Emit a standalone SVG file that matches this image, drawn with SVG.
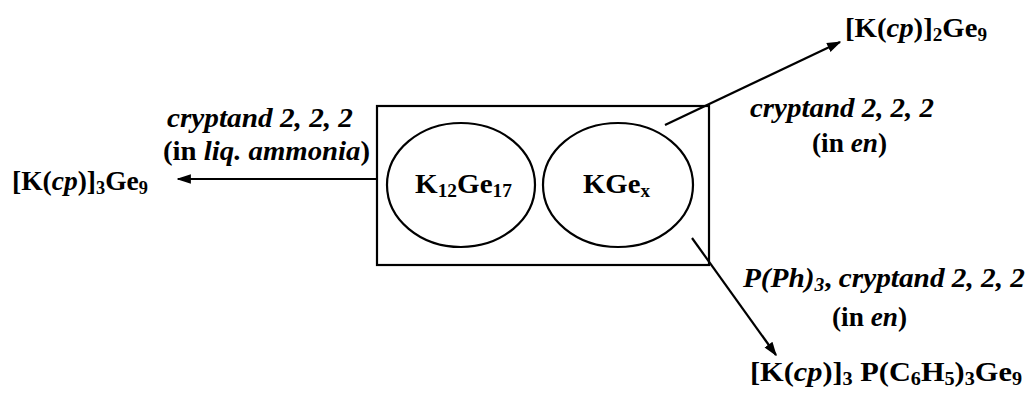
<svg xmlns="http://www.w3.org/2000/svg" width="1030" height="398" viewBox="0 0 1030 398">
<defs>
<style>
.t{font-family:'Liberation Serif','Times New Roman',serif;font-size:27px;font-weight:bold;fill:#000}
.i{font-style:italic}
.s{font-size:18px}
.box{fill:none;stroke:#000;stroke-width:2.2}
.ln{fill:none;stroke:#000;stroke-width:2.2}
</style>
<marker id="ah" viewBox="0 0 10 10" refX="9" refY="5" markerWidth="6.5" markerHeight="6.5" markerUnits="strokeWidth" orient="auto">
<path d="M0,1.6 L10,5 L0,8.4 z" fill="#000"/>
</marker>
</defs>
<rect width="1030" height="398" fill="#fff"/>

<g id="container">
<rect class="box" x="377" y="106" width="332" height="159"/>
</g>
<g id="node-k12ge17">
<ellipse class="box" cx="461" cy="185" rx="74" ry="62"/>
<text class="t" x="415" y="193" textLength="97" lengthAdjust="spacingAndGlyphs">K<tspan class="s" dy="4">12</tspan><tspan dy="-4">Ge</tspan><tspan class="s" dy="4">17</tspan></text>
</g>
<g id="node-kgex">
<ellipse class="box" cx="618" cy="185" rx="75" ry="62"/>
<text class="t" x="583" y="193" textLength="67" lengthAdjust="spacingAndGlyphs">KGe<tspan class="s" dy="4">x</tspan></text>
</g>

<g id="connectors">
<line class="ln" x1="377" y1="179" x2="178" y2="179" marker-end="url(#ah)"/>
<line class="ln" x1="665" y1="125" x2="840" y2="42" marker-end="url(#ah)"/>
<line class="ln" x1="692" y1="238" x2="776" y2="355" marker-end="url(#ah)"/>
</g>

<g id="label-left">
<text class="t i" x="167" y="127" textLength="186" lengthAdjust="spacingAndGlyphs">cryptand 2, 2, 2</text>
<text class="t" x="163" y="160" textLength="207" lengthAdjust="spacingAndGlyphs">(in <tspan class="i">liq. ammonia</tspan>)</text>
</g>
<g id="node-left-product">
<text class="t" x="12" y="190" textLength="136" lengthAdjust="spacingAndGlyphs">[K(<tspan class="i">cp</tspan>)]<tspan class="s" dy="4">3</tspan><tspan dy="-4">Ge</tspan><tspan class="s" dy="4">9</tspan></text>
</g>

<g id="node-top-product">
<text class="t" x="845" y="37" textLength="142" lengthAdjust="spacingAndGlyphs">[K(<tspan class="i">cp</tspan>)]<tspan class="s" dy="4">2</tspan><tspan dy="-4">Ge</tspan><tspan class="s" dy="4">9</tspan></text>
</g>
<g id="label-top">
<text class="t i" x="750" y="117" textLength="184" lengthAdjust="spacingAndGlyphs">cryptand 2, 2, 2</text>
<text class="t" x="812" y="152" textLength="75" lengthAdjust="spacingAndGlyphs">(in <tspan class="i">en</tspan>)</text>
</g>

<g id="label-bottom">
<text class="t i" x="743" y="287" textLength="282" lengthAdjust="spacingAndGlyphs">P(Ph)<tspan class="s" dy="4">3</tspan><tspan dy="-4" font-style="normal">, </tspan>cryptand 2, 2, 2</text>
<text class="t" x="832" y="326" textLength="75" lengthAdjust="spacingAndGlyphs">(in <tspan class="i">en</tspan>)</text>
</g>
<g id="node-bottom-product">
<text class="t" x="750" y="381" textLength="272" lengthAdjust="spacingAndGlyphs">[K(<tspan class="i">cp</tspan>)]<tspan class="s" dy="4">3</tspan><tspan dy="-4"> P(C</tspan><tspan class="s" dy="4">6</tspan><tspan dy="-4">H</tspan><tspan class="s" dy="4">5</tspan><tspan dy="-4">)</tspan><tspan class="s" dy="4">3</tspan><tspan dy="-4">Ge</tspan><tspan class="s" dy="4">9</tspan></text>
</g>
</svg>
